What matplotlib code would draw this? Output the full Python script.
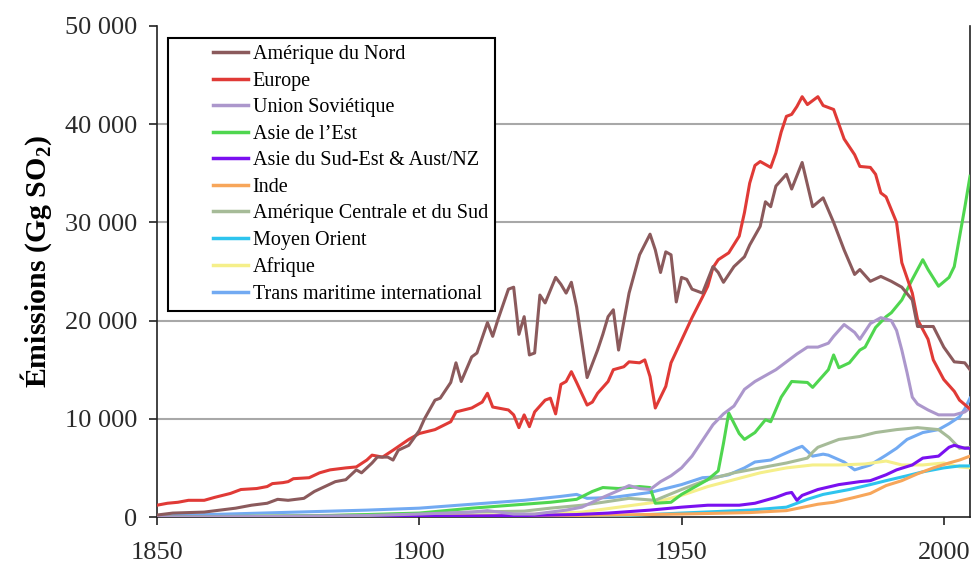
import matplotlib
matplotlib.use("Agg")
import matplotlib.pyplot as plt
from matplotlib.ticker import FuncFormatter

plt.rcParams['font.family'] = ['Liberation Serif', 'DejaVu Serif']
plt.rcParams['mathtext.fontset'] = 'custom'
plt.rcParams['mathtext.rm'] = 'Liberation Serif'
plt.rcParams['mathtext.bf'] = 'Liberation Serif:bold'

# Emissions SO2 (Gg) par région
nord_annees = [1850, 1853, 1859, 1862, 1865, 1868, 1871, 1873, 1875, 1878, 1880, 1882, 1884, 1886, 1887,
               1888, 1889, 1891, 1892, 1894, 1895, 1896, 1898, 1900, 1901, 1903, 1904, 1906, 1907, 1908,
               1910, 1911, 1913, 1914, 1915, 1917, 1918, 1919, 1920, 1921, 1922, 1923, 1924, 1926, 1927,
               1928, 1929, 1930, 1932, 1934, 1935, 1936, 1937, 1938, 1940, 1942, 1944, 1945, 1946, 1947,
               1948, 1949, 1950, 1951, 1952, 1954, 1956, 1957, 1958, 1960, 1962, 1963, 1965, 1966, 1967,
               1968, 1970, 1971, 1973, 1975, 1977, 1979, 1981, 1983, 1984, 1986, 1988, 1990, 1992, 1994,
               1995, 1997, 1998, 2000, 2002, 2004, 2005]
nord = [200, 400, 500, 700, 900, 1200, 1400, 1800, 1700, 1900, 2600, 3100, 3600, 3800, 4300,
        4800, 4500, 5500, 6100, 6100, 5800, 6800, 7300, 8800, 10000, 11900, 12100, 13700, 15700, 13800,
        16300, 16700, 19800, 18400, 20100, 23200, 23400, 18600, 20400, 16500, 16700, 22600, 21800, 24400, 23700,
        22800, 23900, 21400, 14200, 17000, 18600, 20400, 21100, 17000, 22800, 26700, 28800, 27200, 24900, 27000,
        26700, 21900, 24400, 24200, 23200, 22800, 25500, 24900, 23900, 25500, 26500, 27700, 29600, 32100, 31600,
        33700, 34900, 33400, 36100, 31600, 32500, 30000, 27200, 24700, 25200, 24000, 24500, 24000, 23400, 22100,
        19400, 19400, 19400, 17300, 15800, 15700, 15000]

europe_annees = [1850, 1852, 1854, 1856, 1859, 1861, 1864, 1866, 1869, 1871, 1872, 1874, 1875, 1876, 1879,
                 1881, 1883, 1886, 1888, 1890, 1891, 1893, 1895, 1898, 1900, 1903, 1906, 1907, 1910, 1912,
                 1913, 1914, 1917, 1918, 1919, 1920, 1921, 1922, 1924, 1925, 1926, 1927, 1928, 1929, 1930,
                 1932, 1933, 1934, 1936, 1937, 1939, 1940, 1942, 1943, 1944, 1945, 1947, 1948, 1950, 1952,
                 1954, 1955, 1956, 1957, 1959, 1961, 1962, 1963, 1964, 1965, 1966, 1967, 1968, 1969, 1970,
                 1971, 1972, 1973, 1974, 1976, 1977, 1979, 1981, 1983, 1984, 1986, 1987, 1988, 1989, 1991,
                 1992, 1994, 1995, 1997, 1998, 2000, 2002, 2003, 2005]
europe = [1200, 1400, 1500, 1700, 1700, 2000, 2400, 2800, 2900, 3100, 3400, 3500, 3600, 3900, 4000,
          4500, 4800, 5000, 5100, 5800, 6300, 6100, 6800, 7900, 8500, 8900, 9700, 10700, 11100, 11700,
          12600, 11200, 10900, 10400, 9100, 10400, 9200, 10700, 11900, 12100, 10500, 13500, 13800, 14800, 13700,
          11400, 11700, 12600, 13800, 15000, 15300, 15800, 15700, 16000, 14300, 11100, 13300, 15700, 18000, 20300,
          22400, 23500, 25400, 26200, 26900, 28600, 31000, 34000, 35800, 36200, 35900, 35600, 37100, 39200, 40800,
          41000, 41800, 42800, 42000, 42800, 41900, 41500, 38500, 36900, 35700, 35600, 34900, 33000, 32600, 30000,
          25900, 22800, 20100, 18100, 16000, 14000, 12800, 11900, 11000]

urss_annees = [1850, 1870, 1890, 1900, 1910, 1913, 1918, 1922, 1925, 1928, 1931, 1935, 1938, 1940, 1942,
               1944, 1946, 1948, 1950, 1952, 1954, 1956, 1958, 1960, 1962, 1964, 1966, 1968, 1970, 1972,
               1974, 1976, 1978, 1979, 1981, 1983, 1984, 1986, 1988, 1990, 1991, 1992, 1993, 1994, 1995,
               1997, 1999, 2002, 2004, 2005]
urss = [0, 50, 150, 300, 500, 650, 300, 300, 500, 700, 1000, 2000, 2700, 3200, 2900,
        2800, 3600, 4200, 5000, 6200, 7800, 9400, 10500, 11300, 13000, 13800, 14400, 15000, 15800, 16600,
        17300, 17300, 17700, 18400, 19600, 18800, 18100, 19700, 20300, 20000, 19000, 17000, 14700, 12200, 11500,
        10900, 10400, 10400, 10700, 11100]

est_annees = [1850, 1880, 1900, 1910, 1920, 1925, 1930, 1933, 1935, 1938, 1940, 1942, 1944, 1945, 1948,
              1950, 1952, 1955, 1957, 1958, 1959, 1961, 1962, 1964, 1966, 1967, 1969, 1971, 1974, 1975,
              1976, 1978, 1979, 1980, 1982, 1984, 1985, 1987, 1989, 1990, 1992, 1994, 1996, 1997, 1999,
              2001, 2002, 2003, 2004, 2005]
est = [0, 100, 400, 900, 1300, 1500, 1800, 2600, 3000, 2900, 3000, 3100, 3000, 1400, 1500,
       2300, 2900, 3800, 4700, 7500, 10600, 8500, 7900, 8600, 9900, 9700, 12200, 13800, 13700, 13200,
       13800, 15000, 16500, 15200, 15700, 17000, 17300, 19300, 20400, 20800, 22100, 24200, 26200, 25200, 23500,
       24400, 25500, 28500, 31500, 34700]

sudest_annees = [1850, 1900, 1920, 1930, 1936, 1944, 1950, 1955, 1961, 1964, 1968, 1970, 1971, 1972, 1973,
                 1976, 1980, 1984, 1986, 1989, 1991, 1994, 1996, 1999, 2001, 2002, 2004, 2005]
sudest = [0, 50, 150, 250, 400, 700, 1000, 1200, 1200, 1400, 2000, 2400, 2500, 1700, 2200,
          2800, 3300, 3600, 3700, 4300, 4800, 5300, 6000, 6200, 7100, 7300, 7000, 7000]

inde_annees = [1850, 1900, 1930, 1950, 1963, 1970, 1976, 1979, 1983, 1986, 1989, 1992, 1995, 1998, 2001,
               2003, 2005]
inde = [0, 50, 150, 300, 450, 650, 1300, 1500, 2000, 2400, 3200, 3700, 4400, 5000, 5500,
        5800, 6200]

amsud_annees = [1850, 1880, 1900, 1910, 1920, 1925, 1931, 1935, 1940, 1945, 1950, 1955, 1960, 1965, 1970,
                1974, 1975, 1976, 1980, 1984, 1987, 1991, 1995, 1999, 2001, 2003, 2005]
amsud = [0, 150, 300, 500, 600, 900, 1200, 1500, 1900, 1700, 2800, 3800, 4500, 5000, 5500,
         6000, 6600, 7100, 7900, 8200, 8600, 8900, 9100, 8900, 8100, 7000, 7100]

moyen_annees = [1850, 1930, 1940, 1950, 1963, 1970, 1974, 1977, 1982, 1986, 1989, 1993, 1996, 2000, 2003,
                2005]
moyen = [0, 50, 150, 400, 700, 1000, 1800, 2300, 2800, 3300, 3700, 4200, 4600, 5000, 5200,
         5200]

afrique_annees = [1850, 1900, 1920, 1925, 1931, 1938, 1945, 1950, 1955, 1960, 1965, 1970, 1975, 1980, 1985,
                  1989, 1992, 1996, 2000, 2003, 2005]
afrique = [0, 100, 250, 350, 500, 1000, 1500, 2200, 3100, 3800, 4500, 5000, 5300, 5300, 5400,
           5700, 5300, 5300, 5500, 5100, 5000]

mer_annees = [1850, 1860, 1870, 1880, 1890, 1900, 1910, 1920, 1927, 1930, 1932, 1937, 1944, 1950, 1954,
              1957, 1959, 1962, 1964, 1967, 1969, 1972, 1973, 1975, 1977, 1978, 1981, 1983, 1986, 1989,
              1991, 1993, 1996, 1999, 2001, 2003, 2004, 2005]
mer = [100, 250, 400, 550, 700, 900, 1300, 1700, 2100, 2300, 1900, 2000, 2500, 3300, 4000,
       4100, 4300, 5000, 5600, 5800, 6300, 7000, 7200, 6200, 6400, 6300, 5600, 4800, 5300, 6300,
       7000, 7900, 8600, 8900, 9500, 10200, 11000, 12100]

series = [
    ("Amérique du Nord", nord_annees, nord, '#8b5a5c'),
    ("Europe", europe_annees, europe, '#e03a36'),
    ("Union Soviétique", urss_annees, urss, '#ac97cc'),
    ("Asie de l\u2019Est", est_annees, est, '#4fd64f'),
    ("Asie du Sud-Est & Aust/NZ", sudest_annees, sudest, '#7a10f0'),
    ("Inde", inde_annees, inde, '#f7a65a'),
    ("Amérique Centrale et du Sud", amsud_annees, amsud, '#a6bb98'),
    ("Moyen Orient", moyen_annees, moyen, '#2ec4ee'),
    ("Afrique", afrique_annees, afrique, '#f5ef8a'),
    ("Trans maritime international", mer_annees, mer, '#72aaf2'),
]

fig = plt.figure(figsize=(9.73, 5.67), dpi=100)
ax = fig.add_axes([157/973, 50/567, 813/973, 491/567])

for i, (nom, x, y, c) in enumerate(series):
    ax.plot(x, y, color=c, lw=2.2, label=nom, zorder=3 + (len(series) - i) * 0.1)

ax.set_xlim(1850, 2005)
ax.set_ylim(0, 50000)
ax.set_xticks([1850, 1900, 1950, 2000])
ax.set_yticks([0, 10000, 20000, 30000, 40000, 50000])
ax.yaxis.set_major_formatter(FuncFormatter(lambda v, p: f"{int(v):,}".replace(",", " ")))

for v in ax.get_yticks()[1:-1]:
    ax.axhline(v, color='#a8a8a8', lw=1.5, zorder=1)

ax.spines['top'].set_visible(False)
for s in ['left', 'bottom', 'right']:
    ax.spines[s].set_color('#222222')
    ax.spines[s].set_linewidth(1.2)
ax.tick_params(axis='both', direction='out', length=6, width=1.2, color='#222222',
               labelsize=19, labelcolor='#2a2a2a')
ax.tick_params(axis='y', pad=8)
ax.tick_params(axis='x', pad=12)

ax.set_ylabel(r"Émissions (Gg SO$_\mathbf{2}$)", fontsize=21.5, fontweight='bold')
ax.yaxis.set_label_coords(-0.127, 0.52)

leg = ax.legend(loc='upper left', bbox_to_anchor=(11/813, 1 - 12/491), borderaxespad=0,
                fontsize=14.5, frameon=True, fancybox=False, edgecolor='black',
                handlelength=3.6, handletextpad=0.25, labelspacing=0.37, borderpad=0.35)
leg.get_frame().set_linewidth(1.5)
leg.get_frame().set_alpha(1)
# trait de légende court, collé au texte
for ln in leg.get_lines():
    xs = ln.get_xdata()
    ys = ln.get_ydata()
    x0, x1 = xs[0], xs[-1]
    ln.set_data([x0 + (x1 - x0) * 0.52, x1], [ys[0], ys[-1]])
    ln.set_linewidth(2.5)

fig.savefig("out.png", dpi=100)
